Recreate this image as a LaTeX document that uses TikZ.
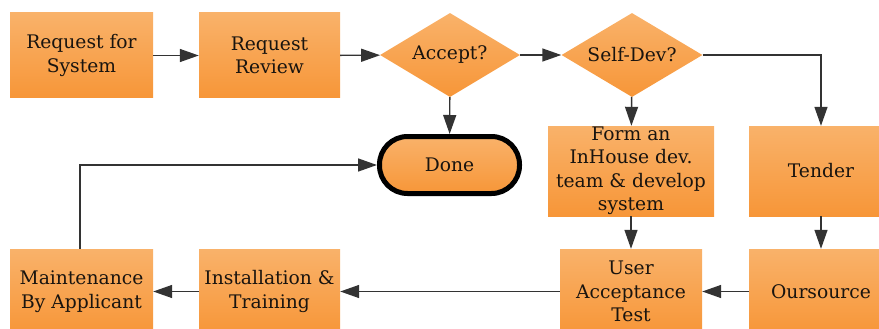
\documentclass[tikz,border=0pt]{standalone}
\usepackage{fontspec}
\setmainfont{DejaVu Serif}
\usetikzlibrary{shapes.geometric,arrows.meta,shadings}
\definecolor{boxtop}{RGB}{249,178,106}
\definecolor{boxbot}{RGB}{247,150,56}
\definecolor{linegray}{RGB}{51,51,51}
\definecolor{txt}{RGB}{25,20,15}
\tikzset{
  orangefill/.style={top color=boxtop, bottom color=boxbot, draw=none},
  labelfont/.style={font=\fontsize{18.7}{23.5}\selectfont, text=txt},
  stepbox/.style={orangefill, rectangle, inner sep=0pt, align=center, labelfont},
  decision/.style={orangefill, diamond, inner sep=0pt, aspect=1.65,
    minimum width=140pt, minimum height=84pt, labelfont},
  terminal/.style={top color=boxtop, bottom color=boxbot, draw=black,
    line width=5pt, rectangle, rounded corners=28pt, inner sep=0pt,
    minimum width=140pt, minimum height=57pt, labelfont},
  flow/.style={draw=linegray, line width=1.4pt,
    -{Triangle[length=19pt,width=13pt]}},
}
\begin{document}
\begin{tikzpicture}[x=1pt,y=-1pt]
\useasboundingbox (0,0) rectangle (879,329);

% top row
\node[stepbox, minimum width=143pt, minimum height=85pt] (rfs) at (81.5,55.5) {Request for\\System};
\node[stepbox, minimum width=141pt, minimum height=85pt] (rr) at (269.5,55.5) {Request\\Review};
\node[decision] (acc) at (450,55) {Accept?};
\node[decision, minimum width=141pt] (sd) at (632,55) {Self-Dev?};

% middle row
\node[terminal] (done) at (449.5,165) {Done};
\node[stepbox, minimum width=166pt, minimum height=90pt] (form) at (631,171) {Form an\\InHouse dev.\\team \& develop\\system};
\node[stepbox, minimum width=144pt, minimum height=90pt] (tender) at (821,171) {Tender};

% bottom row
\node[stepbox, minimum width=143pt, minimum height=85pt] (maint) at (81.5,291.5) {Maintenance\\By Applicant};
\node[stepbox, minimum width=141pt, minimum height=85pt] (inst) at (269.5,291.5) {Installation \&\\Training};
\node[stepbox, minimum width=142pt, minimum height=85pt] (uat) at (631,291.5) {User\\Acceptance\\Test};
\node[stepbox, minimum width=144pt, minimum height=85pt] (outs) at (821,291.5) {Oursource};

% connectors
\draw[flow] (rfs) -- (rr);
\draw[flow] (rr) -- (acc);
\draw[flow] (acc) -- (sd);
\draw[flow] (sd.east) -| (tender.north);
\draw[flow] (sd) -- (form);
\draw[flow] (acc) -- (done);
\draw[flow] (form) -- (uat);
\draw[flow] (tender) -- (outs);
\draw[flow] (outs) -- (uat);
\draw[flow] (uat) -- (inst);
\draw[flow] (inst) -- (maint);
\draw[flow] ([xshift=-1.5pt]maint.north) |- (done.west);
\end{tikzpicture}
\end{document}
